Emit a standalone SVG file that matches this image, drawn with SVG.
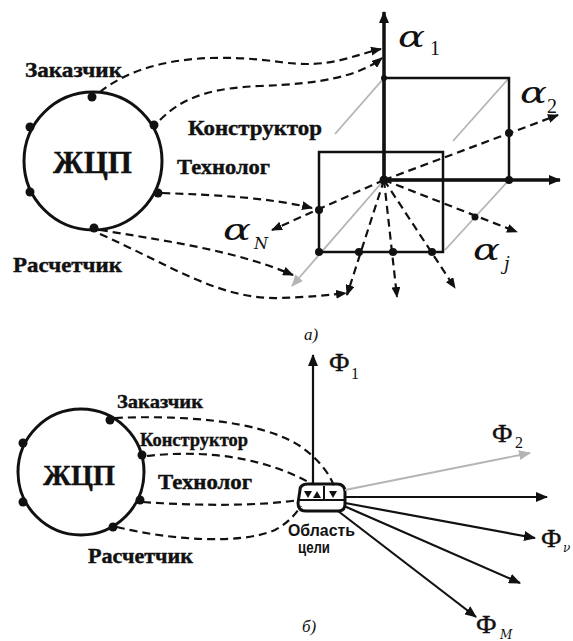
<svg xmlns="http://www.w3.org/2000/svg" width="573" height="641" viewBox="0 0 573 641">
<style>
.lbl{font-family:"Liberation Serif",serif;font-weight:bold;fill:#111;stroke:#111;stroke-width:0.4}
.gr{font-family:"DejaVu Serif",serif;font-style:italic;fill:#111}
.sub{font-family:"Liberation Serif",serif;fill:#111}
.phi{font-family:"Liberation Serif",serif;fill:#111;stroke:#111;stroke-width:0.5}
.ring{fill:none;stroke:#111;stroke-width:3}
.dot{fill:#111}
.dash{fill:none;stroke:#111;stroke-width:2.2;stroke-dasharray:8,5}
.axis{fill:none;stroke:#111;stroke-width:3.5}
.box{fill:none;stroke:#111;stroke-width:2.5}
.gline{fill:none;stroke:#b4b4b4;stroke-width:1.8}
.thin{fill:none;stroke:#111;stroke-width:2.2}
</style>
<defs>
<marker id="ah" markerUnits="userSpaceOnUse" markerWidth="12" markerHeight="10" refX="11" refY="5" orient="auto"><path d="M0,0 L12,5 L0,10 Z" fill="#111"/></marker>
<marker id="ahs" markerUnits="userSpaceOnUse" markerWidth="11" markerHeight="9" refX="10" refY="4.5" orient="auto"><path d="M0,0 L11,4.5 L0,9 Z" fill="#111"/></marker>
<marker id="ahg" markerUnits="userSpaceOnUse" markerWidth="12" markerHeight="10" refX="11" refY="5" orient="auto"><path d="M0,0 L12,5 L0,10 Z" fill="#b4b4b4"/></marker>
</defs>
<rect width="573" height="641" fill="#fff"/>

<!-- Part a -->
<g id="lcp-a">
<circle class="ring" cx="93" cy="161" r="69"/>
<circle class="dot" cx="92" cy="97" r="4.5"/>
<circle class="dot" cx="154" cy="125" r="4.5"/>
<circle class="dot" cx="158" cy="193" r="4.5"/>
<circle class="dot" cx="94" cy="228" r="4.5"/>
<circle class="dot" cx="30" cy="127" r="4.5"/>
<circle class="dot" cx="30" cy="192" r="4.5"/>
<text class="lbl" x="53" y="173" font-size="32" textLength="79" lengthAdjust="spacingAndGlyphs">ЖЦП</text>
</g>
<g id="labels-a">
<text class="lbl" x="25" y="77" font-size="21" textLength="97" lengthAdjust="spacingAndGlyphs">Заказчик</text>
<text class="lbl" x="188" y="135" font-size="21" textLength="134" lengthAdjust="spacingAndGlyphs">Конструктор</text>
<text class="lbl" x="177" y="174" font-size="21" textLength="93" lengthAdjust="spacingAndGlyphs">Технолог</text>
<text class="lbl" x="13" y="272" font-size="21" textLength="109" lengthAdjust="spacingAndGlyphs">Расчетчик</text>
</g>

<g id="cube-a">
<line class="gline" x1="384" y1="78" x2="335" y2="134"/>
<line class="gline" x1="509" y1="78" x2="453" y2="141"/>
<line class="gline" x1="509" y1="180" x2="445" y2="250"/>
<line class="gline" x1="384" y1="180" x2="292" y2="286" stroke-width="2.2" marker-end="url(#ahg)"/>
<rect class="box" x="384" y="78" width="125" height="102"/>
<rect class="box" x="319" y="152" width="124" height="100"/>
<line class="axis" x1="384" y1="180" x2="384" y2="12" marker-end="url(#ah)"/>
<line class="axis" x1="384" y1="180" x2="560" y2="180" marker-end="url(#ah)"/>
</g>

<g id="connectors-a">
<path class="dash" d="M100,92 C150,52 230,55 280,62 S350,56 381,49" marker-end="url(#ahs)"/>
<path class="dash" d="M160,120 C185,95 215,88 260,86 C320,84 360,76 382,58" marker-end="url(#ahs)"/>
<path class="dash" d="M162,193 C220,195 270,198 312,208" marker-end="url(#ahs)"/>
<path class="dash" d="M100,230 C160,240 235,250 293,275" marker-end="url(#ahs)"/>
<path class="dash" d="M100,234 C170,265 220,300 280,298 C310,297 330,295 346,293" marker-end="url(#ahs)"/>
<path class="dash" d="M384,180 L558,115" marker-end="url(#ahs)"/>
<path class="dash" d="M384,180 L272,230" marker-end="url(#ahs)"/>
<path class="dash" d="M384,180 L517,232" marker-end="url(#ahs)"/>
<path class="dash" d="M384,180 L455,288" marker-end="url(#ahs)"/>
<path class="dash" d="M384,180 L397,297" marker-end="url(#ahs)"/>
<path class="dash" d="M384,180 L347,295" marker-end="url(#ahs)"/>
</g>

<g id="points-a">
<circle class="dot" cx="384" cy="78" r="3"/>
<circle class="dot" cx="384" cy="180" r="4.5"/>
<circle class="dot" cx="509" cy="133" r="4"/>
<circle class="dot" cx="509" cy="180" r="4"/>
<circle class="dot" cx="319" cy="210" r="4"/>
<circle class="dot" cx="475" cy="217" r="3.5"/>
<circle class="dot" cx="319" cy="252" r="4"/>
<circle class="dot" cx="359" cy="252" r="4"/>
<circle class="dot" cx="393" cy="252" r="4"/>
<circle class="dot" cx="432" cy="252" r="4"/>
</g>

<g id="greek-a">
<text class="gr" x="398" y="47" font-size="29" textLength="27" lengthAdjust="spacingAndGlyphs">α</text>
<text class="sub" x="430" y="55" font-size="20">1</text>
<text class="gr" x="520" y="103" font-size="29" textLength="27" lengthAdjust="spacingAndGlyphs">α</text>
<text class="sub" x="547" y="113" font-size="20">2</text>
<text class="gr" x="223" y="240" font-size="29" textLength="28" lengthAdjust="spacingAndGlyphs">α</text>
<text class="gr" x="254" y="249" font-size="16">N</text>
<text class="gr" x="473" y="260" font-size="29" textLength="27" lengthAdjust="spacingAndGlyphs">α</text>
<text class="gr" x="504" y="270" font-size="18">j</text>
<text class="sub" font-style="italic" x="304" y="340" font-size="17">а)</text>
</g>

<!-- Part b -->
<g id="lcp-b">
<circle class="ring" cx="81" cy="472" r="63"/>
<circle class="dot" cx="110" cy="420" r="4.5"/>
<circle class="dot" cx="142" cy="455" r="4.5"/>
<circle class="dot" cx="140" cy="500" r="4.5"/>
<circle class="dot" cx="113" cy="527" r="4.5"/>
<circle class="dot" cx="23" cy="443" r="4.5"/>
<circle class="dot" cx="23" cy="502" r="4.5"/>
<text class="lbl" x="43" y="485" font-size="29" textLength="72" lengthAdjust="spacingAndGlyphs">ЖЦП</text>
</g>
<g id="labels-b">
<text class="lbl" x="117" y="408" font-size="19" textLength="86" lengthAdjust="spacingAndGlyphs">Заказчик</text>
<text class="lbl" x="140" y="446" font-size="19" textLength="108" lengthAdjust="spacingAndGlyphs">Конструктор</text>
<text class="lbl" x="158" y="489" font-size="20" textLength="94" lengthAdjust="spacingAndGlyphs">Технолог</text>
<text class="lbl" x="88" y="563" font-size="20" textLength="105" lengthAdjust="spacingAndGlyphs">Расчетчик</text>
</g>

<g id="goal-region">
<path d="M300,490 Q300,484 308,484 L337,484 Q345,484 345,492 L345,504 Q345,512 336,511 L306,511 Q298,511 298,503 Z" fill="#fff" stroke="#111" stroke-width="3"/>
<line x1="299" y1="500" x2="344" y2="500" stroke="#111" stroke-width="2"/>
<line x1="324" y1="486" x2="324" y2="500" stroke="#111" stroke-width="2"/>
<path d="M304,491 L312,491 L308,498 Z" fill="#111"/>
<path d="M313,498 L321,498 L317,491 Z" fill="#111"/>
<path d="M329,491 L337,491 L333,498 Z" fill="#111"/>
<text x="288" y="536" font-family="'Liberation Sans',sans-serif" font-weight="bold" font-size="16" fill="#111" textLength="67" lengthAdjust="spacingAndGlyphs">Область</text>
<text x="298" y="553" font-family="'Liberation Sans',sans-serif" font-weight="bold" font-size="16" fill="#111" textLength="32" lengthAdjust="spacingAndGlyphs">цели</text>
</g>

<g id="connectors-b">
<path class="dash" d="M115,418 C180,415 260,420 300,446 C320,460 330,475 334,486"/>
<path class="dash" d="M147,456 C200,450 260,455 312,484"/>
<path class="dash" d="M143,502 C200,506 260,506 299,500"/>
<path class="dash" d="M117,527 C170,540 240,545 275,530 C290,522 297,512 301,506"/>
<line class="thin" x1="313" y1="485" x2="313" y2="355" marker-end="url(#ah)"/>
<line class="gline" x1="345" y1="490" x2="530" y2="453" stroke-width="2" marker-end="url(#ahg)"/>
<line class="thin" x1="345" y1="497" x2="547" y2="497" marker-end="url(#ah)"/>
<line class="thin" x1="345" y1="503" x2="535" y2="538" marker-end="url(#ah)"/>
<line class="thin" x1="344" y1="506" x2="520" y2="583" marker-end="url(#ah)"/>
<line class="thin" x1="338" y1="511" x2="476" y2="617" marker-end="url(#ah)"/>
</g>

<g id="phi-labels">
<text class="phi" x="541" y="547" font-size="26">Ф</text>
<text class="gr" x="563" y="552" font-size="12">ν</text>
<text class="phi" x="329" y="371" font-size="26">Ф</text>
<text class="sub" x="351" y="379" font-size="16">1</text>
<text class="phi" x="492" y="442" font-size="26">Ф</text>
<text class="sub" x="515" y="448" font-size="16">2</text>
<text class="phi" x="476" y="633" font-size="26">Ф</text>
<text class="gr" x="500" y="639" font-size="12">M</text>
<text class="sub" font-style="italic" x="302" y="632" font-size="17">б)</text>
</g>
</svg>
